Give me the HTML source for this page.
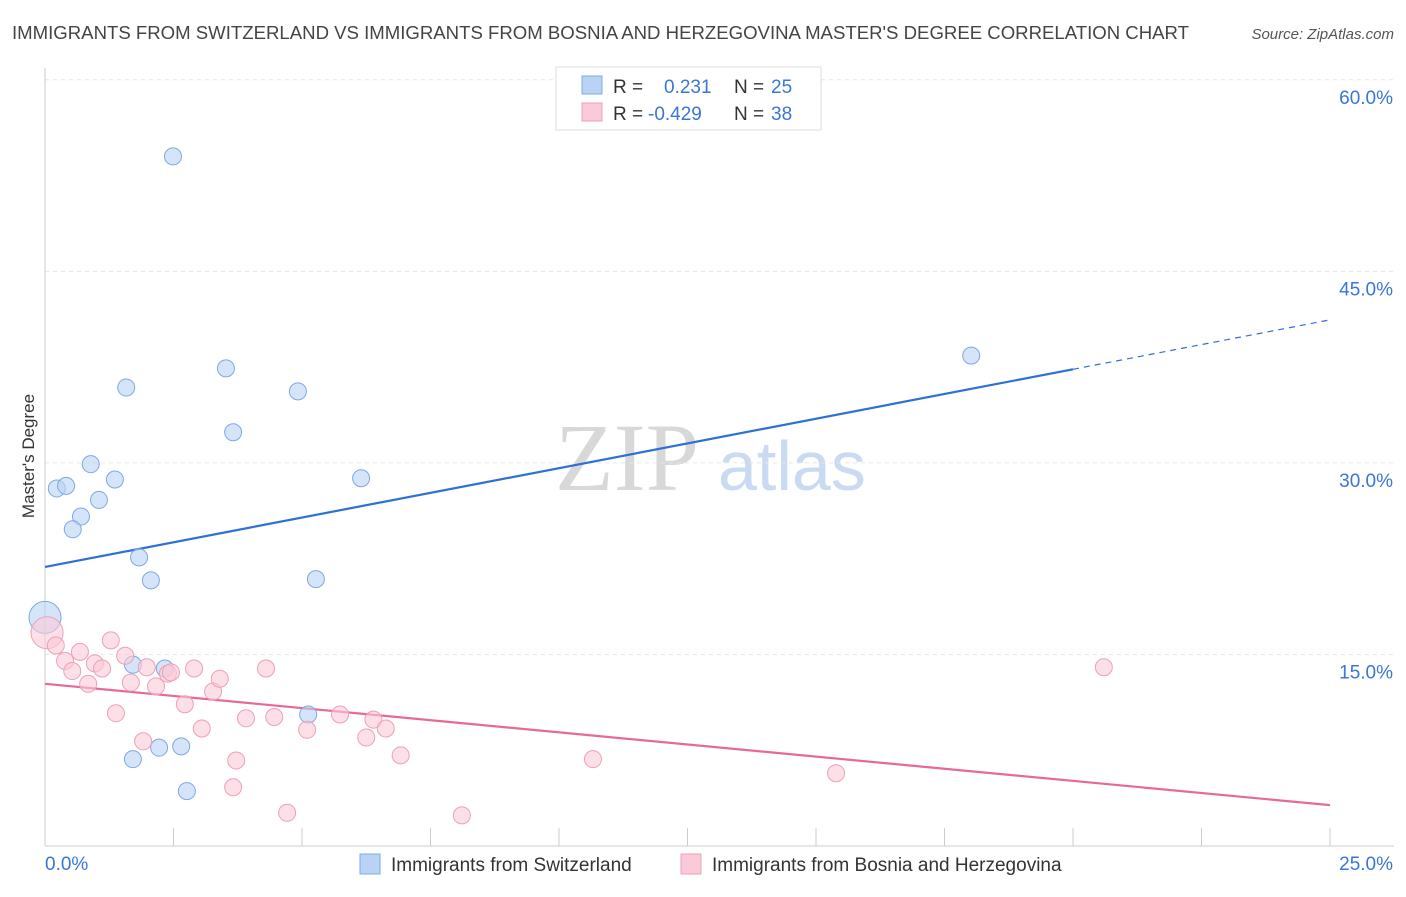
<!DOCTYPE html>
<html><head><meta charset="utf-8"><style>
body{margin:0;background:#fff;font-family:"Liberation Sans",sans-serif;}
</style></head><body>
<svg id="chart" width="1406" height="892" xmlns="http://www.w3.org/2000/svg" font-family="Liberation Sans, sans-serif">
<text x="12" y="39" font-size="18" fill="#444" textLength="1177" lengthAdjust="spacingAndGlyphs">IMMIGRANTS FROM SWITZERLAND VS IMMIGRANTS FROM BOSNIA AND HERZEGOVINA MASTER'S DEGREE CORRELATION CHART</text>
<text x="1394" y="39" font-size="15" fill="#555" text-anchor="end" font-style="italic">Source: ZipAtlas.com</text>
<g>
<text x="555" y="490" font-size="96" font-family="Liberation Serif, serif" fill="#d8d8d8">ZIP</text>
<text x="718" y="490" font-size="70" fill="#c9daf2">atlas</text>
</g>
<g id="grid"></g>
<g id="axes"></g>
<text transform="translate(34,456) rotate(-90)" font-size="17" fill="#333" text-anchor="middle">Master's Degree</text>
<g id="trends"></g>
<g id="points"></g>
<g>
<rect x="556" y="67" width="265" height="63" fill="#fff" stroke="#ddd"/>
<rect x="582" y="76" width="20" height="18" fill="#b9d3f5" stroke="#7fa8e0"/>
<rect x="582" y="103" width="20" height="18" fill="#fbc9d7" stroke="#eda0b8"/>
<text x="613" y="93" font-size="19" fill="#333">R =</text>
<text x="664" y="93" font-size="19" fill="#3a76d8">0.231</text>
<text x="734" y="93" font-size="19" fill="#333">N =</text>
<text x="771" y="93" font-size="19" fill="#3a76d8">25</text>
<text x="613" y="120" font-size="19" fill="#333">R =</text>
<text x="648" y="120" font-size="19" fill="#3a76d8">-0.429</text>
<text x="734" y="120" font-size="19" fill="#333">N =</text>
<text x="771" y="120" font-size="19" fill="#3a76d8">38</text>
</g>
<g>
<rect x="360" y="854" width="20" height="20" fill="#b9d3f5" stroke="#7fa8e0"/>
<text x="391" y="871" font-size="19" fill="#333">Immigrants from Switzerland</text>
<rect x="681" y="854" width="20" height="20" fill="#fbc9d7" stroke="#eda0b8"/>
<text x="712" y="871" font-size="19" fill="#333">Immigrants from Bosnia and Herzegovina</text>
</g>
</svg>
<script>
const blueX=[2.49,1.58,3.52,4.92,3.66,0.89,0.23,0.41,1.36,1.05,0.70,0.54,6.15,1.83,2.06,5.27,0.0,1.71,2.33,5.12,2.65,2.22,1.71,2.76,18.02];
const blueY=[54.0,35.9,37.4,35.6,32.4,29.9,28.0,28.2,28.7,27.1,25.8,24.8,28.8,22.6,20.8,20.9,17.9,14.2,13.9,10.3,7.8,7.7,6.8,4.3,38.4];
const pinkX=[0.04,0.21,0.39,0.53,0.68,0.84,0.97,1.11,1.28,1.38,1.56,1.67,1.91,1.98,2.16,2.39,2.45,2.72,2.90,3.05,3.27,3.40,3.72,3.66,3.91,4.30,4.46,4.71,5.10,5.74,6.25,6.39,6.63,6.92,8.11,10.66,15.39,20.60];
const pinkY=[16.7,15.7,14.5,13.7,15.2,12.7,14.3,13.9,16.1,10.4,14.9,12.8,8.2,14.0,12.5,13.5,13.6,11.1,13.9,9.2,12.1,13.1,6.7,4.6,10.0,13.9,10.1,2.6,9.1,10.3,8.5,9.9,9.2,7.1,2.4,6.8,5.7,14.0];
const blueTrend=[21.85,41.2];
const pinkTrend=[12.7,3.2];
const yTicks=[15,30,45,60];
const xTickVals=[0,2.5,5,7.5,10,12.5,15,17.5,20,22.5,25];
const NS="http://www.w3.org/2000/svg";
const sx=v=>45+v/25*1285;
const sy=v=>846-v*12.77;
function mk(t,a,p){const e=document.createElementNS(NS,t);for(const k in a)e.setAttribute(k,a[k]);p.appendChild(e);return e;}
const grid=document.getElementById('grid'),axes=document.getElementById('axes');
yTicks.forEach(v=>{
 const l=mk('line',{x1:45,x2:1394,y1:sy(v),y2:sy(v),stroke:'#e6e6e6','stroke-dasharray':'4,4'},grid);
 
 
 const t=mk('text',{x:1393,y:sy(v)+24,'font-size':19,fill:'#3a76d8','text-anchor':'end'},axes);
 t.textContent=v.toFixed(1)+'%';
 
 
});
const ax=mk('line',{x1:45,x2:1394,y1:846,y2:846,stroke:'#ccc'},axes);


const ay=mk('line',{x1:45,x2:45,y1:68,y2:846,stroke:'#ccc'},axes);


xTickVals.forEach(v=>{
 const l=mk('line',{x1:sx(v),x2:sx(v),y1:828,y2:846,stroke:'#ccc'},axes);
 
 
});
[[0,'start',45],[25,'end',1393]].forEach(([v,a,x])=>{
 const t=mk('text',{x:x,y:870,'font-size':19,fill:'#3a76d8','text-anchor':a},axes);
 t.textContent=v.toFixed(1)+'%';
 
 
});
const pts=document.getElementById('points');
function dots(X,Y,fill,stroke,name){X.forEach((x,i)=>{
 const r=(x<0.1)?16:8.5;
 const c=mk('circle',{cx:sx(x),cy:sy(Y[i]),r:r,fill:fill,stroke:stroke,'stroke-width':1,'fill-opacity':0.6},pts);
 
 
});}
dots(blueX,blueY,'#b9d3f5','#7fa8e0','switzerland-point');
dots(pinkX,pinkY,'#fbc9d7','#eda0b8','bosnia-point');
const tr=document.getElementById('trends');
const bAt=x=>blueTrend[0]+(blueTrend[1]-blueTrend[0])*x/25;
const b1=mk('line',{x1:sx(0),y1:sy(bAt(0)),x2:sx(20),y2:sy(bAt(20)),stroke:'#2f6fd6','stroke-width':2.2},tr);


const b2=mk('line',{x1:sx(20),y1:sy(bAt(20)),x2:sx(25),y2:sy(bAt(25)),stroke:'#2f6fd6','stroke-width':1.2,'stroke-dasharray':'6,5'},tr);


const p1=mk('line',{x1:sx(0),y1:sy(pinkTrend[0]),x2:sx(25),y2:sy(pinkTrend[1]),stroke:'#e8689a','stroke-width':2.2},tr);


</script>
</body></html>
